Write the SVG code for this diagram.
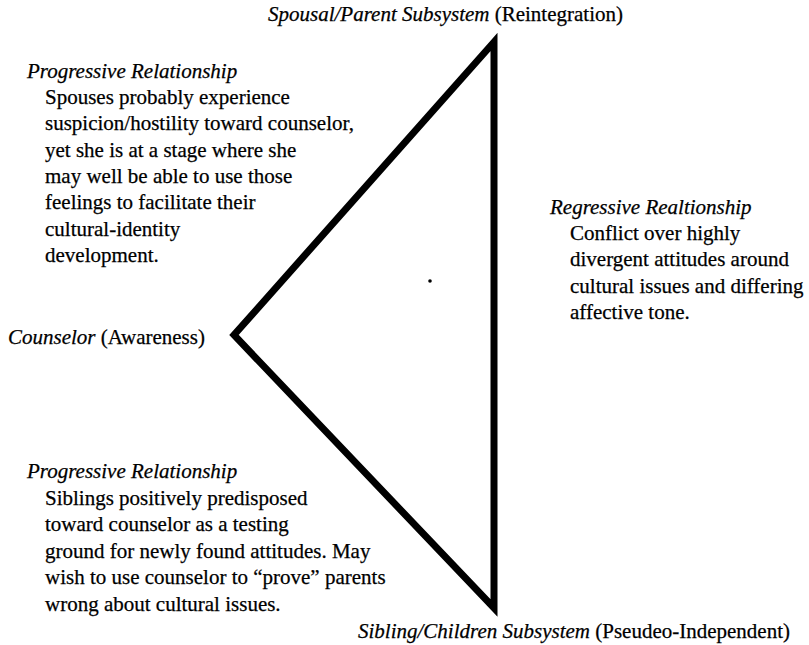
<svg xmlns="http://www.w3.org/2000/svg" width="809" height="645" viewBox="0 0 809 645">
<style>
text { font-family: "Liberation Serif", "Times New Roman", serif; font-size: 21px; fill: #000; stroke: #000; stroke-width: 0.25; }
.i { font-style: italic; }
.tri { fill: none; stroke: #000; stroke-width: 7; stroke-linejoin: miter; }
</style>
<rect width="809" height="645" fill="#fff"/>
<g id="connectors">
<polygon class="tri" points="494,42 234,335 494,608"/>
<circle cx="430" cy="281" r="1.8" fill="#000"/>
</g>
<g id="spousal">
<text x="268" y="21"><tspan class="i">Spousal/Parent Subsystem</tspan> (Reintegration)</text>
</g>
<g id="counselor">
<text x="8" y="344"><tspan class="i">Counselor</tspan> (Awareness)</text>
</g>
<g id="sibling">
<text x="358" y="638"><tspan class="i">Sibling/Children Subsystem</tspan> (Pseudeo-Independent)</text>
</g>
<g id="progressive-top">
<text x="27" y="78" class="i">Progressive Relationship</text>
<text x="45" y="104">Spouses probably experience</text>
<text x="45" y="130">suspicion/hostility toward counselor,</text>
<text x="45" y="157">yet she is at a stage where she</text>
<text x="45" y="183">may well be able to use those</text>
<text x="45" y="209">feelings to facilitate their</text>
<text x="45" y="236">cultural-identity</text>
<text x="45" y="262">development.</text>
</g>
<g id="regressive">
<text x="550" y="214" class="i">Regressive Realtionship</text>
<text x="570" y="240">Conflict over highly</text>
<text x="570" y="266">divergent attitudes around</text>
<text x="570" y="293">cultural issues and differing</text>
<text x="570" y="319">affective tone.</text>
</g>
<g id="progressive-bottom">
<text x="27" y="478" class="i">Progressive Relationship</text>
<text x="45" y="505">Siblings positively predisposed</text>
<text x="45" y="531">toward counselor as a testing</text>
<text x="45" y="558">ground for newly found attitudes. May</text>
<text x="45" y="584">wish to use counselor to “prove” parents</text>
<text x="45" y="611">wrong about cultural issues.</text>
</g>
</svg>
